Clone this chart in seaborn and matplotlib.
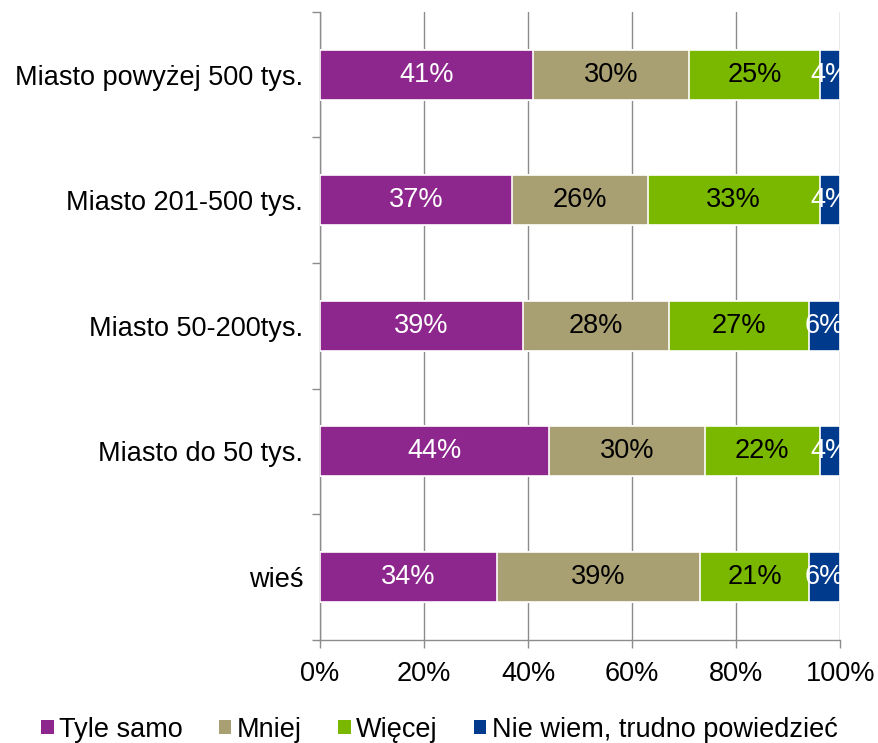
import numpy as np
import pandas as pd
import seaborn as sns
import matplotlib.pyplot as plt
from matplotlib.patches import Patch

categories = ['Miasto powyżej 500 tys.', 'Miasto 201-500 tys.', 'Miasto 50-200tys.',
              'Miasto do 50 tys.', 'wieś']
series = ['Tyle samo', 'Mniej', 'Więcej', 'Nie wiem, trudno powiedzieć']
tyle_samo = [41, 37, 39, 44, 34]
mniej = [30, 26, 28, 30, 39]
wiecej = [25, 33, 27, 22, 21]
nie_wiem = [4, 4, 6, 4, 6]

colors = ['#8E278D', '#A89F72', '#7AB800', '#003A8C']
text_colors = ['white', 'black', 'black', 'white']

sns.set_style('white')
plt.rcParams['font.family'] = ['Liberation Sans', 'DejaVu Sans']
plt.rcParams['text.color'] = 'black'
plt.rcParams['xtick.labelcolor'] = 'black'
plt.rcParams['ytick.labelcolor'] = 'black'

FS = 19.5

values = np.array([tyle_samo, mniej, wiecej, nie_wiem], dtype=float)
cum = values.cumsum(axis=0)

fig = plt.figure(figsize=(8.79, 7.43), dpi=100)
ax = fig.add_axes([0.364, 0.139, 0.592, 0.845])

# Stacked bars: draw cumulative totals from the largest down
for i in range(len(series) - 1, -1, -1):
    df = pd.DataFrame({'cat': categories, 'val': cum[i]})
    sns.barplot(data=df, y='cat', x='val', orient='h', color=colors[i],
                saturation=1, width=0.4, edgecolor='white', linewidth=1.2,
                ax=ax, zorder=3)

# Labels in segment centres
for i in range(len(series)):
    left = cum[i] - values[i]
    for j, cat in enumerate(categories):
        ax.text(left[j] + values[i][j] / 2, j, '%d%%' % values[i][j],
                ha='center', va='center', fontsize=FS, color=text_colors[i], zorder=4)

ax.set_xlim(0, 100)
ax.set_ylim(4.5, -0.5)
ax.set_xticks(np.arange(0, 101, 20))
ax.set_xticklabels(['%d%%' % v for v in range(0, 101, 20)])
ax.set_xlabel('')
ax.set_ylabel('')
ax.xaxis.grid(True, color='#8C8C8C', linewidth=1)
ax.set_axisbelow(True)
for s in ['top', 'right']:
    ax.spines[s].set_visible(False)
for s in ['left', 'bottom']:
    ax.spines[s].set_color('#8C8C8C')
    ax.spines[s].set_linewidth(1)

ax.set_yticks(np.arange(-0.5, 5, 1), minor=True)
ax.tick_params(axis='y', which='major', left=False, length=0, pad=12, labelsize=FS)
ax.tick_params(axis='y', which='minor', left=True, length=6, width=1, color='#8C8C8C',
               direction='out')
ax.tick_params(axis='x', which='major', bottom=True, length=6, width=1, color='#8C8C8C',
               direction='out', pad=9, labelsize=FS)

handles = [Patch(facecolor=c, edgecolor='none') for c in colors]
fig.legend(handles, series, loc='center', bbox_to_anchor=(0.5, 0.018), ncol=4,
           frameon=False, fontsize=FS, handlelength=0.45, handleheight=0.45,
           handletextpad=0.2, columnspacing=1.35)

fig.savefig('out.png', dpi=100)
